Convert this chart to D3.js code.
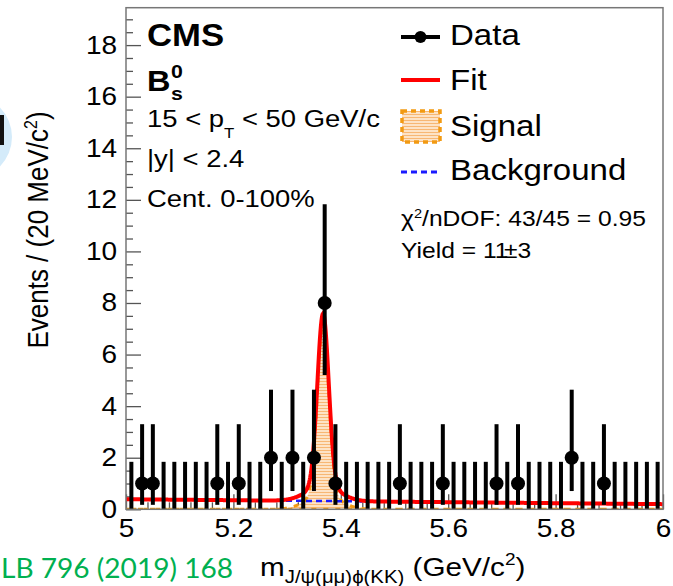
<!DOCTYPE html>
<html>
<head>
<meta charset="utf-8">
<script src="https://cdn.jsdelivr.net/npm/d3@7"></script>
<style>
  html, body { margin: 0; padding: 0; background: #fff; }
  svg { display: block; }
  text { font-family: "Liberation Sans", Arial, Helvetica, sans-serif; fill: #000; }
</style>
</head>
<body>
<svg id="chart" width="673" height="586"></svg>
<script>
// ---- Data: B_s0 -> J/psi(mu mu) phi(KK) candidates, 20 MeV bins from 5.0 to 6.0 GeV/c^2
const massRange = [5.0, 6.0];
const binWidth = 0.02;
const counts = [
  0, 1, 1, 0, 0, 0, 0, 0, 1, 0,
  1, 0, 0, 2, 0, 2, 0, 2, 8, 1,
  0, 0, 0, 0, 0, 1, 0, 0, 0, 1,
  0, 0, 0, 0, 1, 0, 1, 0, 0, 0,
  0, 2, 0, 0, 1, 0, 0, 0, 0, 0
];
// Poisson 68% intervals (lower / upper distance) for the observed counts
const poissonN    = [0,     1,     2,     8    ];
const poissonLow  = [0,     0.827, 1.292, 2.788];
const poissonHigh = [1.841, 2.300, 2.638, 3.831];

// Fit model: double-Gaussian signal + linear background
const signalYield = 11;
const signalMean = 5.367;
const signalSigmas = [0.0105, 0.030];
const signalFracs = [0.80, 0.20];
const bkgAt5 = 0.39;
const bkgSlope = -0.19;

// Axis ticks
const xMajorTicks = [5.0, 5.2, 5.4, 5.6, 5.8, 6.0];
const xTickLabels = ["5", "5.2", "5.4", "5.6", "5.8", "6"];
const yMajorTicks = [0, 2, 4, 6, 8, 10, 12, 14, 16, 18];
const yMax = 19.45;

// ---- Layout
const SX = 1.12;               // horizontal stretch of the glyphs
const svg = d3.select("#chart");
const frame = { left: 126, right: 663, top: 7.7, bottom: 509.3 };

const x = d3.scaleLinear().domain(massRange).range([frame.left, frame.right]);
const y = d3.scaleLinear().domain([0, yMax]).range([frame.bottom, frame.top]);

// ---- Defs: hatched fill for the signal component
const defs = svg.append("defs");
const pat = defs.append("pattern")
  .attr("id", "sigHatch").attr("patternUnits", "userSpaceOnUse")
  .attr("width", 4).attr("height", 3);
pat.append("rect").attr("width", 4).attr("height", 3).attr("fill", "#fde3c6");
pat.append("line").attr("x1", 0).attr("x2", 4).attr("y1", 0.5).attr("y2", 0.5)
  .attr("stroke", "#f7b774").attr("stroke-width", 1);
defs.append("clipPath").attr("id", "plotClip").append("rect")
  .attr("x", frame.left).attr("y", frame.top)
  .attr("width", frame.right - frame.left).attr("height", frame.bottom - frame.top);

// ---- Partial logo at the left margin
svg.append("circle").attr("cx", -30).attr("cy", 137).attr("r", 42).attr("fill", "#d4ebfa");
svg.append("rect").attr("x", 0).attr("y", 115).attr("width", 4).attr("height", 30).attr("fill", "#111");

// ---- Axes (ticks inside the frame)
const minorY = d3.range(0, yMax, 0.5).filter(v => !yMajorTicks.includes(v));
const minorX = d3.range(0, 26).map(i => 5 + i * 0.04).filter(v => xMajorTicks.every(t => Math.abs(t - v) > 1e-6));

const tickColor = "#555";
const yAxisG = svg.append("g").attr("transform", `translate(${frame.left},0)`)
  .call(d3.axisLeft(y).tickValues(yMajorTicks).tickSizeInner(-15).tickSizeOuter(0).tickPadding(8)
    .tickFormat(d3.format("d")));
yAxisG.append("g").call(d3.axisLeft(y).tickValues(minorY).tickSizeInner(-7).tickSizeOuter(0).tickFormat(""));
yAxisG.selectAll("path.domain").remove();
yAxisG.selectAll("line").attr("stroke", tickColor).attr("stroke-width", 1.3);
yAxisG.selectAll("text").attr("font-size", 25).attr("transform", `scale(${SX},1)`)
  .style("font-family", "'Liberation Sans', Arial, sans-serif").attr("fill", "#000");

const xAxisG = svg.append("g").attr("transform", `translate(0,${frame.bottom})`)
  .call(d3.axisBottom(x).tickValues(xMajorTicks).tickSizeInner(-15).tickSizeOuter(0).tickPadding(10)
    .tickFormat((d, i) => xTickLabels[i]));
xAxisG.append("g").call(d3.axisBottom(x).tickValues(minorX).tickSizeInner(-7).tickSizeOuter(0).tickFormat(""));
xAxisG.selectAll("path.domain").remove();
xAxisG.selectAll("line").attr("stroke", tickColor).attr("stroke-width", 1.3);
xAxisG.selectAll(".tick text").attr("font-size", 25)
  .attr("transform", `scale(${SX},1)`)
  .style("font-family", "'Liberation Sans', Arial, sans-serif").attr("fill", "#000");

// ---- Fit curves
const gauss = (m, s) => Math.exp(-0.5 * ((m - signalMean) / s) ** 2) / (Math.sqrt(2 * Math.PI) * s);
const signalPdf = m => signalYield * binWidth *
  (signalFracs[0] * gauss(m, signalSigmas[0]) + signalFracs[1] * gauss(m, signalSigmas[1]));
const bkgPdf = m => bkgAt5 + bkgSlope * (m - 5.0);
const totalPdf = m => signalPdf(m) + bkgPdf(m);
const grid = d3.range(0, 1001).map(i => 5.0 + i * 0.001);

const plot = svg.append("g").attr("clip-path", "url(#plotClip)");

// signal component: hatched area with dashed orange outline
const sigArea = d3.area().x(d => x(d)).y0(y(0)).y1(d => y(signalPdf(d)));
plot.append("path").datum(grid).attr("d", sigArea).attr("fill", "url(#sigHatch)").attr("stroke", "none");
const sigOutline = grid.map(m => [x(m), y(signalPdf(m))])
  .concat([[x(6.0), y(0)], [x(5.0), y(0)]]);
plot.append("path").attr("d", d3.line()(sigOutline) + "Z")
  .attr("fill", "none").attr("stroke", "#f29a12").attr("stroke-width", 3)
  .attr("stroke-dasharray", "5,7");

// background component
plot.append("path").datum(grid)
  .attr("d", d3.line().x(d => x(d)).y(d => y(bkgPdf(d))))
  .attr("fill", "none").attr("stroke", "#1a1aff").attr("stroke-width", 2.5)
  .attr("stroke-dasharray", "6,4");

// total fit
plot.append("path").datum(grid)
  .attr("d", d3.line().x(d => x(d)).y(d => y(totalPdf(d))))
  .attr("fill", "none").attr("stroke", "#ff0000").attr("stroke-width", 4);

// ---- Data with Poisson error bars
const bins = counts.map((n, i) => {
  const k = poissonN.indexOf(n);
  return { m: massRange[0] + binWidth * (i + 0.5), n, lo: n - poissonLow[k], hi: n + poissonHigh[k] };
});
const dataG = svg.append("g");
dataG.selectAll("line.err").data(bins).join("line").attr("class", "err")
  .attr("x1", d => x(d.m)).attr("x2", d => x(d.m))
  .attr("y1", d => y(d.lo)).attr("y2", d => y(d.hi))
  .attr("stroke", "#000").attr("stroke-width", 4);
dataG.selectAll("circle").data(bins.filter(d => d.n > 0)).join("circle")
  .attr("cx", d => x(d.m)).attr("cy", d => y(d.n)).attr("r", 7).attr("fill", "#000");

// ---- Frame
svg.append("rect").attr("x", frame.left).attr("y", frame.top)
  .attr("width", frame.right - frame.left).attr("height", frame.bottom - frame.top)
  .attr("fill", "none").attr("stroke", "#777").attr("stroke-width", 1.5);

// ---- Text helper (stretched horizontally)
function label(x0, y0, size, opts = {}) {
  const t = svg.append("text")
    .attr("transform", `translate(${x0},${y0}) scale(${SX},1)${opts.rotate ? " rotate(" + opts.rotate + ")" : ""}`)
    .attr("font-size", size);
  if (opts.bold) t.attr("font-weight", "bold");
  if (opts.anchor) t.attr("text-anchor", opts.anchor);
  if (opts.fill) t.style("fill", opts.fill);
  if (opts.family) t.style("font-family", opts.family);
  return t;
}

// Experiment / selection labels
label(147, 46, 31, { bold: true }).text("CMS");
label(147, 91, 29, { bold: true }).text("B");
label(171, 78, 19, { bold: true }).text("0");
label(171, 100, 19, { bold: true }).text("s");

const pt = label(147, 127, 24.5);
pt.append("tspan").text("15 < p");
pt.append("tspan").attr("font-size", 15).attr("dy", 11).text("T");
pt.append("tspan").attr("dy", -11).text(" < 50 GeV/c");
label(147, 167, 24.5).text("|y| < 2.4");
label(147, 207, 24.5).text("Cent. 0-100%");

// Legend
const lg = svg.append("g");
lg.append("line").attr("x1", 401).attr("x2", 440).attr("y1", 37).attr("y2", 37)
  .attr("stroke", "#000").attr("stroke-width", 4);
lg.append("circle").attr("cx", 420.5).attr("cy", 37).attr("r", 6).attr("fill", "#000");
label(450, 45, 29.5).text("Data");

lg.append("line").attr("x1", 401).attr("x2", 440).attr("y1", 80).attr("y2", 80)
  .attr("stroke", "#ff0000").attr("stroke-width", 4);
label(450, 90, 29.5).text("Fit");

lg.append("rect").attr("x", 402).attr("y", 111).attr("width", 38).attr("height", 31)
  .attr("fill", "url(#sigHatch)").attr("stroke", "#f29a12").attr("stroke-width", 3.5)
  .attr("stroke-dasharray", "5,4");
label(450, 136, 29.5).text("Signal");

lg.append("line").attr("x1", 401).attr("x2", 440).attr("y1", 172).attr("y2", 172)
  .attr("stroke", "#1a1aff").attr("stroke-width", 3).attr("stroke-dasharray", "6,4");
label(450, 180, 29.5).text("Background");

// Fit quality and yield
const chi = label(401, 226, 22);
chi.append("tspan").text("χ");
chi.append("tspan").attr("font-size", 13).attr("dy", -8).text("2");
chi.append("tspan").attr("dy", 8).text("/nDOF: 43/45 = 0.95");
const yl = label(401, 258, 22);
yl.append("tspan").text("Yield = 11");
yl.append("tspan").attr("dx", -4).text("±");
yl.append("tspan").text("3");

// Axis titles
const yt = label(48, 230, 26, { anchor: "middle", rotate: -90 });
yt.append("tspan").text("Events / (20 MeV/c");
yt.append("tspan").attr("font-size", 16).attr("dy", -10).text("2");
yt.append("tspan").attr("dy", 10).text(")");

const xt = label(260, 576, 26.5);
xt.append("tspan").text("m");
xt.append("tspan").attr("font-size", 18.2).attr("dy", 7).text("J/ψ(μμ)ϕ(KK)");
xt.append("tspan").attr("dy", -7).text(" (GeV/c");
xt.append("tspan").attr("font-size", 17).attr("dy", -11).text("2");
xt.append("tspan").attr("dy", 11).text(")");

// Reference
svg.append("text").attr("x", 1).attr("y", 578).attr("font-size", 27)
  .attr("textLength", 232).attr("lengthAdjust", "spacingAndGlyphs")
  .style("font-family", "Lato, 'Open Sans', sans-serif").style("fill", "#00b050")
  .text("LB 796 (2019) 168");
</script>
</body>
</html>
